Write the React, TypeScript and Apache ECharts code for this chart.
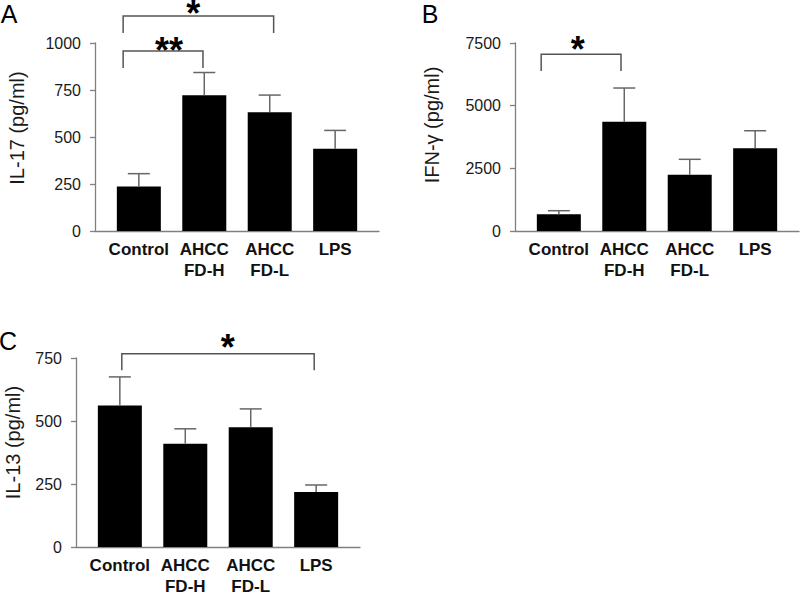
import React, { useEffect, useRef } from "react";
import * as echarts from "echarts";

const categories = ["Control", "AHCC\nFD-H", "AHCC\nFD-L", "LPS"];

const il17Mean = [237, 722, 632, 437];
const il17Upper = [305, 843, 723, 535];
const ifngMean = [666, 4360, 2246, 3298];
const ifngUpper = [810, 5704, 2860, 4000];
const il13Mean = [562, 410, 475, 218];
const il13Upper = [675, 469, 548, 246];

// y-axis scales: [min, max, interval]
const il17Scale = [0, 1000, 250];
const ifngScale = [0, 7500, 2500];
const il13Scale = [0, 750, 250];

// significance brackets: [x1, x2, yTop, yBottom, starX, starY]
const il17Brackets = [
  [-0.24, 0.98, 957, 867, 0.46, 995],
  [-0.24, 2.06, 1144, 1053, 0.83, 1192],
];
const il17Stars = ["**", "*"];
const ifngBrackets = [[-0.27, 0.95, 7048, 6382, 0.29, 7539]];
const ifngStars = ["*"];
const il13Brackets = [[0.03, 2.97, 767, 701, 1.65, 819]];
const il13Stars = ["*"];

const FONT = "'Liberation Sans', Arial, Helvetica, sans-serif";
const AXIS_COLOR = "#808080";
const ERR_COLOR = "#666666";
const BRACKET_COLOR = "#555555";

export default function App() {
  const ref = useRef<HTMLDivElement>(null);

  useEffect(() => {
    document.body.style.margin = "0";
    if (!ref.current) return;
    const chart = echarts.init(ref.current, null, { renderer: "svg" });

    const panels = [
      {
        letter: "A", letterPos: [9, 14], name: "IL-17 (pg/ml)",
        mean: il17Mean, upper: il17Upper, scale: il17Scale,
        brackets: il17Brackets, stars: il17Stars,
        grid: { left: 95, top: 43, width: 284, height: 188 },
        nameGap: 68, namePad: 18,
      },
      {
        letter: "B", letterPos: [430, 14], name: "IFN-\u03b3 (pg/ml)",
        mean: ifngMean, upper: ifngUpper, scale: ifngScale,
        brackets: ifngBrackets, stars: ifngStars,
        grid: { left: 515, top: 43, width: 284, height: 188 },
        nameGap: 73, namePad: 24,
      },
      {
        letter: "C", letterPos: [8, 341], name: "IL-13 (pg/ml)",
        mean: il13Mean, upper: il13Upper, scale: il13Scale,
        brackets: il13Brackets, stars: il13Stars,
        grid: { left: 76, top: 358, width: 284, height: 189 },
        nameGap: 53, namePad: 20,
      },
    ];

    const grids: any[] = [];
    const xAxes: any[] = [];
    const yAxes: any[] = [];
    const series: any[] = [];
    const graphics: any[] = [];

    panels.forEach((p, i) => {
      grids.push({ ...p.grid, outerBoundsMode: "none", containLabel: false });
      xAxes.push({
        gridIndex: i,
        type: "value",
        min: -0.67,
        max: 3.67,
        splitLine: { show: false },
        axisTick: { show: false },
        axisLine: { show: true, onZero: false, lineStyle: { color: AXIS_COLOR, width: 1.3 } },
        axisLabel: {
          customValues: [0, 1, 2, 3],
          formatter: (v: number) => categories[Math.round(v)] ?? "",
          fontFamily: FONT,
          fontSize: 17,
          fontWeight: "bold",
          color: "#111111",
          lineHeight: 21,
          margin: 8,
          verticalAlign: "top",
        },
      });
      yAxes.push({
        gridIndex: i,
        type: "value",
        min: p.scale[0],
        max: p.scale[1],
        interval: p.scale[2],
        splitLine: { show: false },
        axisLine: { show: true, onZero: false, lineStyle: { color: AXIS_COLOR, width: 1.3 } },
        axisTick: { show: true, length: 5, lineStyle: { color: AXIS_COLOR, width: 1.3 } },
        axisLabel: {
          fontFamily: FONT,
          fontSize: 16,
          color: "#1a1a1a",
          margin: 14,
          formatter: (v: number) => String(v),
        },
        name: p.name,
        nameLocation: "middle",
        nameGap: p.nameGap,
        nameTextStyle: {
          fontFamily: FONT,
          fontSize: 20,
          color: "#1a1a1a",
          padding: [0, 0, 0, p.namePad],
        },
      });

      series.push({
        type: "bar",
        xAxisIndex: i,
        yAxisIndex: i,
        barWidth: 44,
        itemStyle: { color: "#000000" },
        data: p.mean.map((v, k) => [k, v]),
        z: 2,
      });

      series.push({
        type: "custom",
        xAxisIndex: i,
        yAxisIndex: i,
        z: 3,
        data: p.mean.map((v, k) => [k, v, p.upper[k]]),
        encode: { x: 0, y: [1, 2] },
        renderItem: (_params: any, api: any) => {
          const x = api.value(0);
          const m = api.value(1);
          const t = api.value(2);
          const p0 = api.coord([x, m]);
          const p1 = api.coord([x, t]);
          const st = { stroke: ERR_COLOR, lineWidth: 1.5 };
          return {
            type: "group",
            children: [
              { type: "line", shape: { x1: p0[0], y1: p0[1], x2: p1[0], y2: p1[1] }, style: st },
              { type: "line", shape: { x1: p1[0] - 11, y1: p1[1], x2: p1[0] + 11, y2: p1[1] }, style: st },
            ],
          };
        },
      });

      const stars = p.stars;
      series.push({
        type: "custom",
        xAxisIndex: i,
        yAxisIndex: i,
        z: 4,
        clip: false,
        data: p.brackets,
        encode: { x: [0, 1], y: [2, 3] },
        renderItem: (params: any, api: any) => {
          const x1 = api.value(0);
          const x2 = api.value(1);
          const yt = api.value(2);
          const yb = api.value(3);
          const sx = api.value(4);
          const sy = api.value(5);
          const a = api.coord([x1, yb]);
          const b = api.coord([x1, yt]);
          const c = api.coord([x2, yt]);
          const d = api.coord([x2, yb]);
          const s = api.coord([sx, sy]);
          return {
            type: "group",
            children: [
              {
                type: "polyline",
                shape: { points: [a, b, c, d] },
                style: { stroke: BRACKET_COLOR, lineWidth: 1.5, fill: null },
              },
              {
                type: "text",
                x: s[0],
                y: s[1] + 7,
                style: {
                  text: stars[params.dataIndex],
                  font: `bold 36px ${FONT}`,
                  fill: "#000000",
                  align: "center",
                  verticalAlign: "middle",
                },
              },
            ],
          };
        },
      });

      graphics.push({
        type: "text",
        x: p.letterPos[0],
        y: p.letterPos[1],
        style: {
          text: p.letter,
          font: `25px ${FONT}`,
          fill: "#000000",
          align: "center",
          verticalAlign: "middle",
        },
      });
    });

    chart.setOption({
      animation: false,
      backgroundColor: "#ffffff",
      grid: grids,
      xAxis: xAxes,
      yAxis: yAxes,
      series,
      graphic: graphics,
    });

    return () => chart.dispose();
  }, []);

  return <div ref={ref} style={{ width: 800, height: 594 }} />;
}
